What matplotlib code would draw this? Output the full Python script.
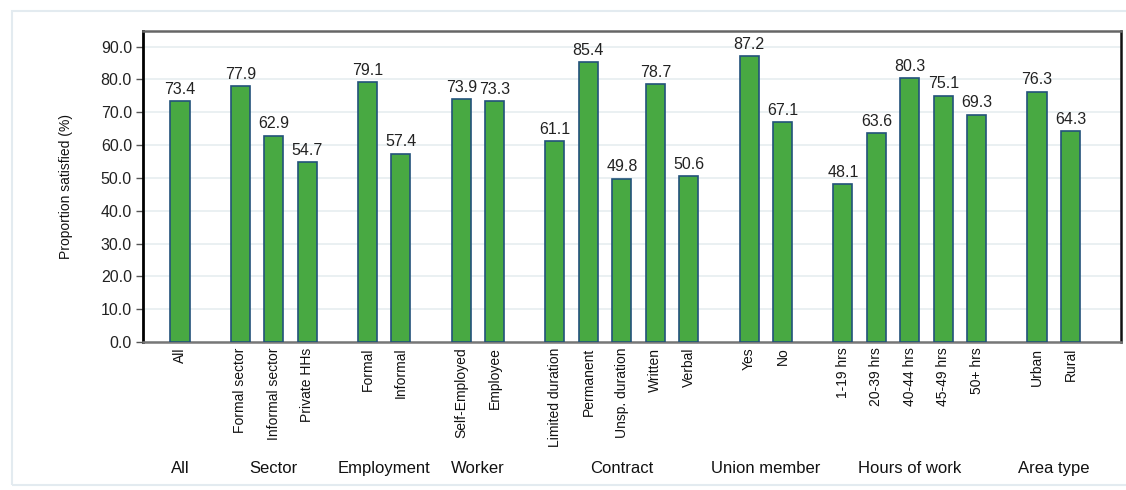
import matplotlib.pyplot as plt
import matplotlib.transforms as mtransforms
from matplotlib.patches import Rectangle

plt.rcParams['font.family'] = ['Liberation Sans', 'DejaVu Sans']

# data
groups = ['All', 'Sector', 'Employment', 'Worker', 'Contract',
          'Union member', 'Hours of work', 'Area type']
group_labels = [
    ['All'],
    ['Formal sector', 'Informal sector', 'Private HHs'],
    ['Formal', 'Informal'],
    ['Self-Employed', 'Employee'],
    ['Limited duration', 'Permanent', 'Unsp. duration', 'Written', 'Verbal'],
    ['Yes', 'No'],
    ['1-19 hrs', '20-39 hrs', '40-44 hrs', '45-49 hrs', '50+ hrs'],
    ['Urban', 'Rural'],
]
group_values = [
    [73.4],
    [77.9, 62.9, 54.7],
    [79.1, 57.4],
    [73.9, 73.3],
    [61.1, 85.4, 49.8, 78.7, 50.6],
    [87.2, 67.1],
    [48.1, 63.6, 80.3, 75.1, 69.3],
    [76.3, 64.3],
]

GAP = 1.8  # distance between last bar of a group and first bar of the next
xs, labels, values, centers = [], [], [], []
pos = 0.0
for labs, vals in zip(group_labels, group_values):
    gx = []
    for lab, v in zip(labs, vals):
        gx.append(pos)
        xs.append(pos)
        labels.append(lab)
        values.append(v)
        pos += 1
    centers.append(sum(gx) / len(gx))
    pos += GAP - 1

fig = plt.figure(figsize=(11.26, 4.9), dpi=100)
fig.patches.append(Rectangle((0.011, 0.01), 1.2, 0.967, transform=fig.transFigure,
                             fill=False, edgecolor='#e3ebf0', linewidth=1.5))
ax = fig.add_axes([0.127, 0.302, 0.8686, 0.635])

bars = ax.bar(xs, values, width=0.57, color='#48a942', edgecolor='#22527a',
              linewidth=1.2, zorder=3)
for x, v in zip(xs, values):
    ax.annotate(f'{v:.1f}', (x, v), xytext=(0, 3), textcoords='offset points',
                ha='center', va='bottom', fontsize=11.5, color='#222222')

ax.set_xlim(-1.105, 28.11)
ax.set_ylim(0, 94.8)
ax.set_yticks(range(0, 91, 10))
ax.set_yticklabels([f'{t:.1f}' for t in range(0, 91, 10)], fontsize=11.5, color='#222222')
ax.set_xticks(xs)
ax.set_xticklabels(labels, rotation=90, fontsize=10, color='#111111')
ax.tick_params(axis='x', length=0, pad=4)
ax.tick_params(axis='y', length=5, width=1, color='#555555', pad=3)
ax.yaxis.grid(True, color='#e6eef0', linewidth=1.2, zorder=0)
ax.set_ylabel('Proportion satisfied (%)', fontsize=10, labelpad=20, color='#111111')

ax.spines['left'].set_color('black')
ax.spines['left'].set_linewidth(2)
ax.spines['right'].set_color('#111111')
ax.spines['right'].set_linewidth(1.8)
ax.spines['top'].set_color('#666666')
ax.spines['top'].set_linewidth(1.8)
ax.spines['bottom'].set_color('#777777')
ax.spines['bottom'].set_linewidth(1.8)

trans = mtransforms.blended_transform_factory(ax.transData, ax.transAxes)
for c, g in zip(centers, groups):
    ax.text(c, -0.408, g, transform=trans, ha='center', va='center',
            fontsize=12, color='#111111')

fig.savefig('out.png', dpi=100)
